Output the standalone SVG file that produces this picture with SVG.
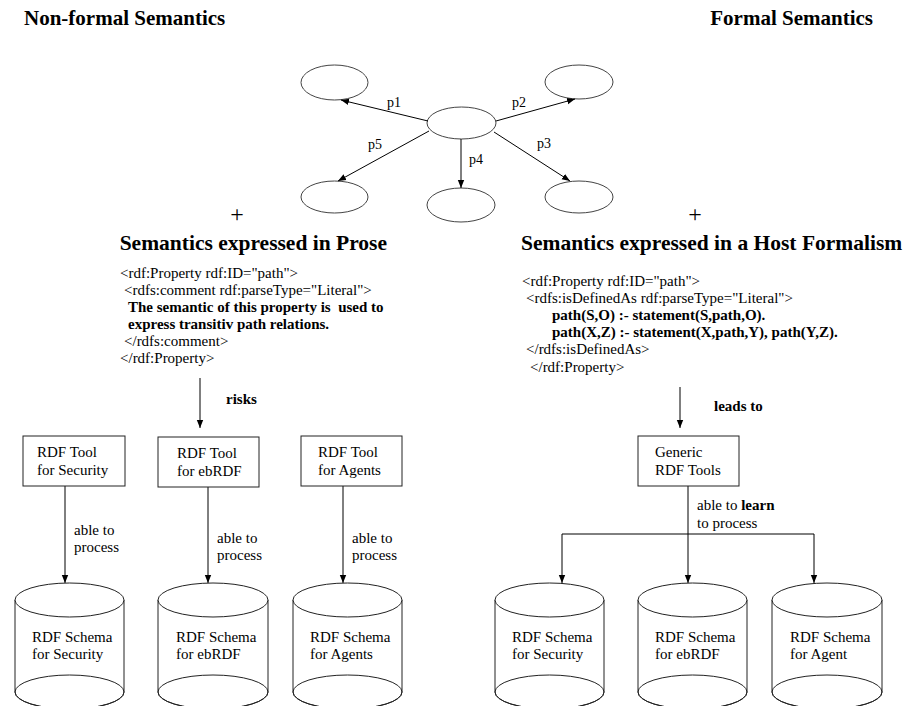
<svg xmlns="http://www.w3.org/2000/svg" width="905" height="706" viewBox="0 0 905 706">
<defs>
<marker id="ah" viewBox="0 0 10 10" refX="10" refY="5" markerWidth="8" markerHeight="8" markerUnits="userSpaceOnUse" orient="auto">
<path d="M0,1 L10,5 L0,9 Z" fill="#000"/>
</marker>
</defs>
<style>
text{font-family:"Liberation Serif","Times New Roman",serif;fill:#000}
.title{font-size:21px;font-weight:bold}
.head{font-size:21.5px;font-weight:bold}
.code{font-size:15px;white-space:pre}
.b{font-weight:bold}
.lbl{font-size:15px}
.pl{font-size:14px}
.node{fill:#fff;stroke:#222;stroke-width:1}
.ell{fill:#fff;stroke:#444;stroke-width:1}
.conn line,.conn path{stroke:#000;stroke-width:1;fill:none}
.arr{marker-end:url(#ah)}
</style>
<rect width="905" height="706" fill="#fff"/>
<text class="title" x="24" y="25">Non-formal Semantics</text>
<text class="title" x="873" y="25" text-anchor="end">Formal Semantics</text>

<g id="n-center"><ellipse class="ell" cx="461.5" cy="123" rx="34.5" ry="16"/></g>
<g id="n-tl"><ellipse class="ell" cx="334.5" cy="82.5" rx="33.5" ry="17.5"/></g>
<g id="n-tr"><ellipse class="ell" cx="579" cy="82" rx="34" ry="17"/></g>
<g id="n-bl"><ellipse class="ell" cx="334.5" cy="197" rx="33.5" ry="16"/></g>
<g id="n-bc"><ellipse class="ell" cx="461" cy="205" rx="34" ry="17"/></g>
<g id="n-br"><ellipse class="ell" cx="579" cy="197" rx="34" ry="16"/></g>

<g id="connectors" class="conn">
<line class="arr" x1="428" y1="121" x2="341" y2="100"/>
<line class="arr" x1="496" y1="121" x2="575" y2="99"/>
<line class="arr" x1="494" y1="132" x2="570" y2="181"/>
<line class="arr" x1="461" y1="139" x2="461" y2="188"/>
<line class="arr" x1="429" y1="131" x2="338" y2="181"/>
<line class="arr" x1="200" y1="378" x2="200" y2="428"/>
<line class="arr" x1="680" y1="387" x2="680" y2="428"/>
<line class="arr" x1="65" y1="486" x2="65" y2="583"/>
<line class="arr" x1="208" y1="487" x2="208" y2="583"/>
<line class="arr" x1="343" y1="486" x2="343" y2="583"/>
<line class="arr" x1="688" y1="486" x2="688" y2="583"/>
<path d="M562,534 H814"/>
<line class="arr" x1="562" y1="534" x2="562" y2="583"/>
<line class="arr" x1="814" y1="534" x2="814" y2="583"/>
</g>

<g id="edge-labels">
<text class="pl" x="387" y="107">p1</text>
<text class="pl" x="512" y="107">p2</text>
<text class="pl" x="537" y="148">p3</text>
<text class="pl" x="469" y="164">p4</text>
<text class="pl" x="368" y="149">p5</text>
<text class="lbl b" x="226" y="404">risks</text>
<text class="lbl b" x="714" y="411">leads to</text>
<text class="lbl" x="74" y="535">able to</text>
<text class="lbl" x="74" y="552">process</text>
<text class="lbl" x="217" y="543">able to</text>
<text class="lbl" x="217" y="560">process</text>
<text class="lbl" x="352" y="543">able to</text>
<text class="lbl" x="352" y="560">process</text>
<text class="lbl" x="697" y="510">able to <tspan class="b">learn</tspan></text>
<text class="lbl" x="697" y="528">to process</text>
</g>

<text style="font-size:24px" x="237" y="222" text-anchor="middle">+</text>
<text style="font-size:24px" x="695" y="222" text-anchor="middle">+</text>

<text class="head" x="387" y="250" text-anchor="end">Semantics expressed in Prose</text>
<text class="head" x="521" y="250">Semantics expressed in a Host Formalism</text>

<g id="code-left">
<text class="code" x="120" y="278">&lt;rdf:Property rdf:ID="path"&gt;</text>
<text class="code" x="124" y="295">&lt;rdfs:comment rdf:parseType="Literal"&gt;</text>
<text class="code b" x="128" y="312" xml:space="preserve">The semantic of this property is  used to</text>
<text class="code b" x="128" y="329">express transitiv path relations.</text>
<text class="code" x="124" y="346">&lt;/rdfs:comment&gt;</text>
<text class="code" x="120" y="363">&lt;/rdf:Property&gt;</text>
</g>
<g id="code-right">
<text class="code" x="522" y="286">&lt;rdf:Property rdf:ID="path"&gt;</text>
<text class="code" x="526" y="303">&lt;rdfs:isDefinedAs rdf:parseType="Literal"&gt;</text>
<text class="code b" x="552" y="320">path(S,O) :- statement(S,path,O).</text>
<text class="code b" x="552" y="337">path(X,Z) :- statement(X,path,Y), path(Y,Z).</text>
<text class="code" x="526" y="354">&lt;/rdfs:isDefinedAs&gt;</text>
<text class="code" x="530" y="372">&lt;/rdf:Property&gt;</text>
</g>

<g id="tool-security"><rect class="node" x="23" y="436" width="102" height="50"/><text class="lbl" x="37" y="457">RDF Tool</text><text class="lbl" x="37" y="475">for Security</text></g>
<g id="tool-ebrdf"><rect class="node" x="158" y="437" width="101" height="50"/><text class="lbl" x="177" y="458">RDF Tool</text><text class="lbl" x="177" y="476">for ebRDF</text></g>
<g id="tool-agents"><rect class="node" x="301" y="436" width="101" height="50"/><text class="lbl" x="318" y="457">RDF Tool</text><text class="lbl" x="318" y="475">for Agents</text></g>
<g id="generic-tools"><rect class="node" x="638" y="436" width="101" height="50"/><text class="lbl" x="655" y="457">Generic</text><text class="lbl" x="655" y="475">RDF Tools</text></g>

<g id="schema-security-l"><path class="node" d="M15,600 V692 A54.5,17 0 0 0 124,692 V600"/><ellipse class="node" cx="69.5" cy="692" rx="54.5" ry="17" style="fill:none"/><ellipse class="node" cx="69.5" cy="600" rx="54.5" ry="17"/><text class="lbl" x="32" y="642">RDF Schema</text><text class="lbl" x="32" y="659">for Security</text></g>
<g id="schema-ebrdf-l"><path class="node" d="M158,600 V692 A55,17 0 0 0 268,692 V600"/><ellipse class="node" cx="213" cy="692" rx="55" ry="17" style="fill:none"/><ellipse class="node" cx="213" cy="600" rx="55" ry="17"/><text class="lbl" x="176" y="642">RDF Schema</text><text class="lbl" x="176" y="659">for ebRDF</text></g>
<g id="schema-agents-l"><path class="node" d="M293,600 V692 A54.5,17 0 0 0 402,692 V600"/><ellipse class="node" cx="347.5" cy="692" rx="54.5" ry="17" style="fill:none"/><ellipse class="node" cx="347.5" cy="600" rx="54.5" ry="17"/><text class="lbl" x="310" y="642">RDF Schema</text><text class="lbl" x="310" y="659">for Agents</text></g>
<g id="schema-security-r"><path class="node" d="M495,600 V692 A54.5,17 0 0 0 604,692 V600"/><ellipse class="node" cx="549.5" cy="692" rx="54.5" ry="17" style="fill:none"/><ellipse class="node" cx="549.5" cy="600" rx="54.5" ry="17"/><text class="lbl" x="512" y="642">RDF Schema</text><text class="lbl" x="512" y="659">for Security</text></g>
<g id="schema-ebrdf-r"><path class="node" d="M638,600 V692 A54.5,17 0 0 0 747,692 V600"/><ellipse class="node" cx="692.5" cy="692" rx="54.5" ry="17" style="fill:none"/><ellipse class="node" cx="692.5" cy="600" rx="54.5" ry="17"/><text class="lbl" x="655" y="642">RDF Schema</text><text class="lbl" x="655" y="659">for ebRDF</text></g>
<g id="schema-agent-r"><path class="node" d="M772,600 V692 A55,17 0 0 0 882,692 V600"/><ellipse class="node" cx="827" cy="692" rx="55" ry="17" style="fill:none"/><ellipse class="node" cx="827" cy="600" rx="55" ry="17"/><text class="lbl" x="790" y="642">RDF Schema</text><text class="lbl" x="790" y="659">for Agent</text></g>
</svg>
